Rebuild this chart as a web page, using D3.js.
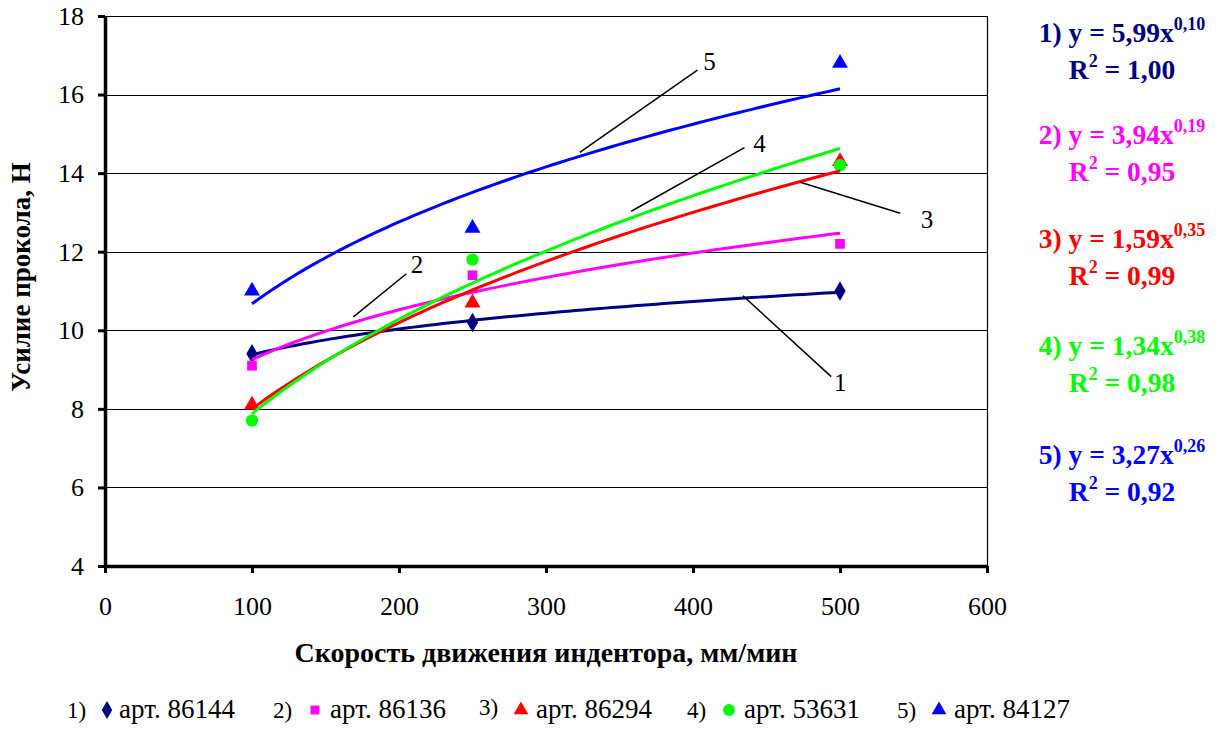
<!DOCTYPE html>
<meta charset="utf-8">
<script src="https://d3js.org/d3.v7.min.js"></script>
<style>
body { margin: 0; background: #fff; }
svg text { font-family: "Liberation Serif", "Times New Roman", "DejaVu Serif", serif !important; }
.grid line { stroke: #000; stroke-width: 1; }
.axis path, .axis line { stroke: #000; }
.axis text { font-size: 26px; fill: #000; }
.eq { font-weight: bold; font-size: 27.5px; }
</style>
<body>
<div id="chart"></div>
<script>
// данные -----------------------------------------------------------
var speeds = [100, 250, 500];
var names = ["арт. 86144", "арт. 86136", "арт. 86294", "арт. 53631", "арт. 84127"];
var force1 = [9.4, 10.2, 11.0];
var force2 = [9.1, 11.4, 12.2];
var force3 = [8.1, 10.7, 14.3];
var force4 = [7.7, 11.8, 14.2];
var force5 = [11.0, 12.6, 16.8];
var colors = ["#000080", "#ff00ff", "#ff0000", "#00ff00", "#0000ff"];
var symbols = [d3.symbolDiamond, d3.symbolSquare, d3.symbolTriangle, d3.symbolCircle, d3.symbolTriangle];
var equations = [["5,99", "0,10", "1,00"], ["3,94", "0,19", "0,95"], ["1,59", "0,35", "0,99"], ["1,34", "0,38", "0,98"], ["3,27", "0,26", "0,92"]];
var xTicks = [0, 100, 200, 300, 400, 500, 600];
var yTicks = [4, 6, 8, 10, 12, 14, 16, 18];
// подписи кривых: [x1, y1, x2, y2, xText, yText]
var leaders = [
  [434, 10.88, 494, 8.82, 496, 8.45],
  [169, 10.34, 205, 11.44, 208, 11.45],
  [473, 13.77, 541, 12.98, 555, 12.6],
  [358, 13.03, 435, 14.65, 441, 14.55],
  [323, 14.53, 403, 16.62, 407, 16.62]
];

var series = [force1, force2, force3, force4, force5];

var width = 1220, height = 733;
var margin = {left: 105, top: 16, right: 233, bottom: 167};
var w = width - margin.left - margin.right;
var h = height - margin.top - margin.bottom;

var svg = d3.select("#chart").append("svg")
  .attr("width", width).attr("height", height);

var x = d3.scaleLinear().domain([0, 600]).range([0, w]);
var y = d3.scaleLinear().domain([4, 18]).range([h, 0]);

var g = svg.append("g").attr("transform", "translate(" + margin.left + "," + margin.top + ")");

// сетка
g.append("g").attr("class", "grid")
  .selectAll("line").data(yTicks.slice(1)).enter().append("line")
  .attr("x1", 0).attr("x2", w)
  .attr("y1", function(d) { return Math.round(y(d)) + 0.5; })
  .attr("y2", function(d) { return Math.round(y(d)) + 0.5; });
g.append("line").attr("x1", w + 0.5).attr("x2", w + 0.5).attr("y1", 0).attr("y2", h)
  .attr("stroke", "#000").attr("stroke-width", 1.2);

// оси
var xAxis = g.append("g").attr("class", "axis")
  .attr("transform", "translate(0," + h + ")")
  .call(d3.axisBottom(x).tickValues(xTicks).tickSize(7).tickSizeOuter(0).tickPadding(24));
var yAxis = g.append("g").attr("class", "axis")
  .call(d3.axisLeft(y).tickValues(yTicks).tickSize(7).tickSizeOuter(0).tickPadding(14));
xAxis.attr("font-family", null).attr("font-size", null);
yAxis.attr("font-family", null).attr("font-size", null);
xAxis.select(".domain").attr("stroke-width", 3.5);
yAxis.select(".domain").attr("stroke-width", 3.5);
xAxis.selectAll(".tick line").attr("stroke-width", 3);
yAxis.selectAll(".tick line").attr("stroke-width", 3);

// маркеры
series.forEach(function(vals, i) {
  g.append("g").selectAll("path").data(vals).enter().append("path")
    .attr("d", d3.symbol().type(symbols[i]).size(i == 3 ? 120 : (i == 1 ? 95 : 110)))
    .attr("transform", function(d, j) { return "translate(" + x(speeds[j]) + "," + y(d) + ")"; })
    .attr("fill", colors[i]);
});

// степенные линии тренда (МНК по логарифмам)
function powerFit(xs, ys) {
  var lx = xs.map(Math.log), ly = ys.map(Math.log);
  var mx = d3.mean(lx), my = d3.mean(ly);
  var sxy = d3.sum(lx, function(v, k) { return (v - mx) * (ly[k] - my); });
  var sxx = d3.sum(lx, function(v) { return (v - mx) * (v - mx); });
  var b = sxy / sxx;
  return {a: Math.exp(my - b * mx), b: b};
}
var line = d3.line().x(function(d) { return x(d[0]); }).y(function(d) { return y(d[1]); });
series.forEach(function(vals, i) {
  var f = powerFit(speeds, vals);
  var pts = d3.range(100, 501, 5).map(function(s) { return [s, f.a * Math.pow(s, f.b)]; });
  g.append("path").attr("d", line(pts))
    .attr("fill", "none").attr("stroke", colors[i]).attr("stroke-width", 3);
});

// выноски
leaders.forEach(function(l, i) {
  g.append("line")
    .attr("x1", x(l[0])).attr("y1", y(l[1])).attr("x2", x(l[2])).attr("y2", y(l[3]))
    .attr("stroke", "#000").attr("stroke-width", 1.5);
  g.append("text").text(i + 1)
    .attr("x", x(l[4])).attr("y", y(l[5]))
    .style("font-size", "25px");
});

// подписи осей
svg.append("text")
  .text("Скорость движения индентора, мм/мин")
  .attr("x", 546).attr("y", 662)
  .attr("text-anchor", "middle")
  .style("font-size", "28px").style("font-weight", "bold");
svg.append("text")
  .text("Усилие прокола, Н")
  .attr("transform", "translate(30,277) rotate(-90)")
  .attr("text-anchor", "middle")
  .style("font-size", "27px").style("font-weight", "bold");

// уравнения
var eqY = [42, 144, 248, 355, 464];
equations.forEach(function(e, i) {
  var t = svg.append("text").attr("class", "eq").attr("fill", colors[i])
    .attr("x", 1122).attr("y", eqY[i]).attr("text-anchor", "middle");
  t.append("tspan").text((i + 1) + ") y = " + e[0] + "x");
  t.append("tspan").text(e[1]).attr("dy", -12).style("font-size", "18px");
  var r = svg.append("text").attr("class", "eq").attr("fill", colors[i])
    .attr("x", 1122).attr("y", eqY[i] + 37).attr("text-anchor", "middle");
  r.append("tspan").text("R");
  r.append("tspan").text("2").attr("dy", -12).style("font-size", "18px");
  r.append("tspan").text(" = " + e[2]).attr("dy", 12);
});

// легенда
var legX = [67, 273, 479, 687, 897];
names.forEach(function(n, i) {
  var lg = svg.append("g").attr("transform", "translate(" + legX[i] + ",718)");
  lg.append("text").text((i + 1) + ")").style("font-size", "23px").attr("y", i == 2 ? -3 : 0);
  lg.append("path")
    .attr("d", d3.symbol().type(symbols[i]).size(i == 3 ? 110 : (i == 1 ? 80 : 95)))
    .attr("transform", "translate(" + (i == 0 ? 40 : 42) + ",-8)")
    .attr("fill", colors[i]);
  lg.append("text").text(n).attr("x", i == 0 ? 52 : 57).style("font-size", "27px");
});
</script>
</body>
